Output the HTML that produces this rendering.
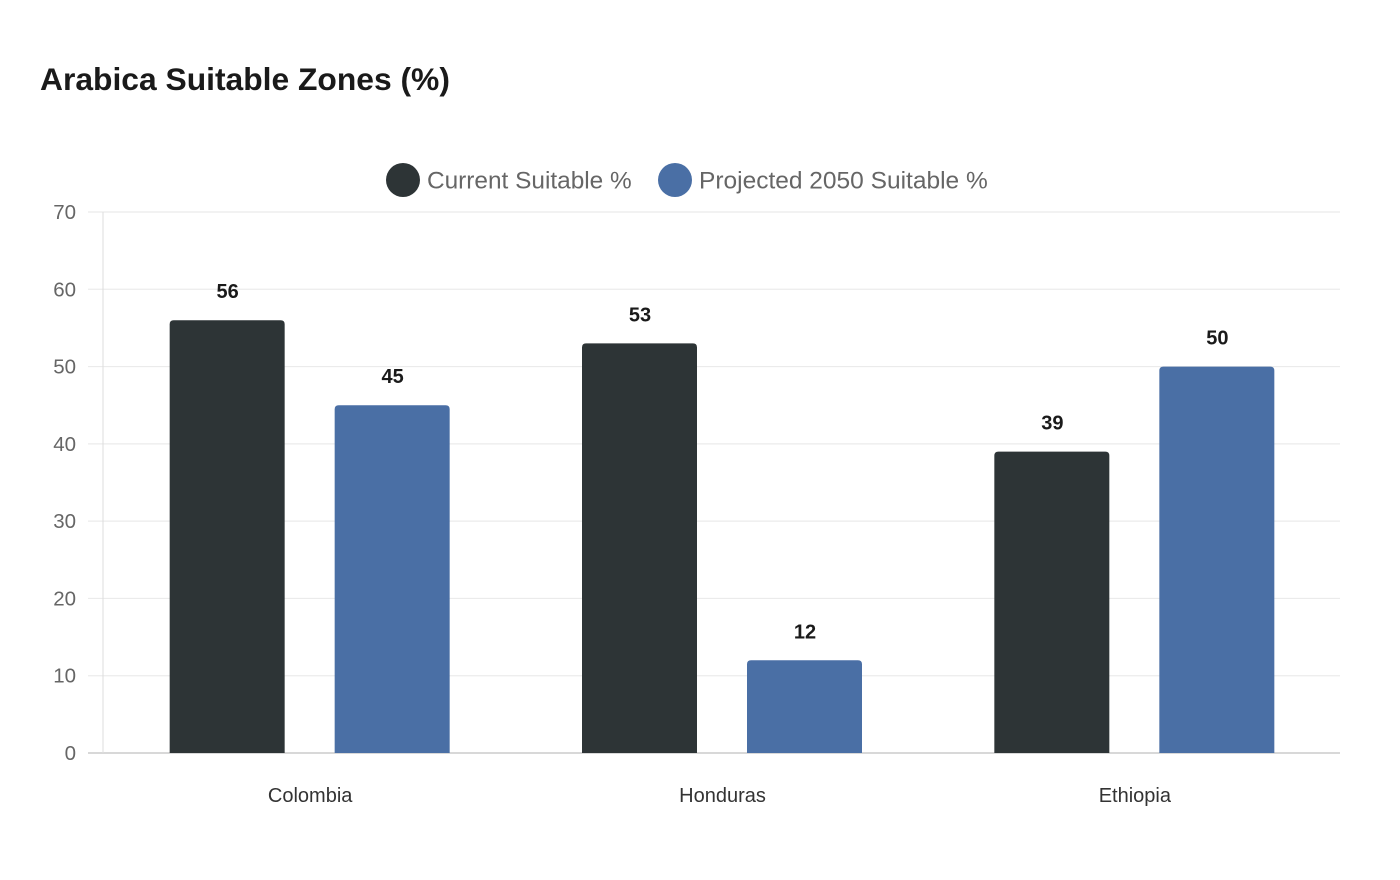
<!DOCTYPE html>
<html><head><meta charset="utf-8"><style>
body{margin:0;background:#fff;font-family:"Liberation Sans",sans-serif}
svg{display:block}
</style></head><body>
<svg id="chart" width="1400" height="880">
<text x="40" y="90" font-size="31.8" font-weight="bold" fill="#1a1a1a">Arabica Suitable Zones (%)</text>
<g>
<g><circle cx="403" cy="180" r="17" fill="#2d3436"/><text x="427" y="188.5" font-size="24.4" fill="#666">Current Suitable %</text></g>
<g><circle cx="675" cy="180" r="17" fill="#4a6fa5"/><text x="699" y="188.5" font-size="24.5" fill="#666">Projected 2050 Suitable %</text></g>
</g>
<g id="grid"></g><g id="bars"></g>
</svg>
<script>
const categories=["Colombia","Honduras","Ethiopia"];
const currentValues=[56,53,39];
const projectedValues=[45,12,50];
const yTicks=[0,10,20,30,40,50,60,70];
const NS="http://www.w3.org/2000/svg";
const L=103,R=1340,T=212,B=753,YMAX=70;
const y=v=>B-(v/YMAX)*(B-T);
const band=(R-L)/categories.length;
const xc=i=>L+band*(i+0.5);
function mk(tag,attrs,parent,txt){const e=document.createElementNS(NS,tag);for(const k in attrs)e.setAttribute(k,attrs[k]);if(txt!=null)e.textContent=txt;parent.appendChild(e);return e;}
const grid=document.getElementById('grid'),bars=document.getElementById('bars');
yTicks.forEach(t=>{
 const l=mk('line',{x1:88,x2:R,y1:y(t),y2:y(t),stroke:t===0?'#ccc':'#ebebeb','stroke-width':t===0?1.5:1.2},grid);
 
 
 const tx=mk('text',{x:76,y:y(t)+7,'text-anchor':'end','font-size':20.5,fill:'#666'},grid,t);
 
 
});
const ax=mk('line',{x1:L,x2:L,y1:T,y2:B,stroke:'#ddd','stroke-width':1},grid);


function bar(cx,v,color,name){
 const w=115,top=y(v),r=4,x0=cx-w/2;
 const p=mk('path',{d:`M${x0},${B}V${top+r}Q${x0},${top} ${x0+r},${top}H${x0+w-r}Q${x0+w},${top} ${x0+w},${top+r}V${B}Z`,fill:color},bars);
 
 
 const t=mk('text',{x:cx+0.5,y:top-22,'text-anchor':'middle','font-size':20,'font-weight':'bold',fill:'#1a1a1a'},bars,v);
 
 
}
categories.forEach((c,i)=>{
 bar(xc(i)-82,currentValues[i],'#2d3436','bar-current-'+c.toLowerCase());
 bar(xc(i)+83,projectedValues[i],'#4a6fa5','bar-projected-'+c.toLowerCase());
 const t=mk('text',{x:xc(i)+1,y:802,'text-anchor':'middle','font-size':20,fill:'#333'},bars,c);
 
 
});
</script>
</body></html>
